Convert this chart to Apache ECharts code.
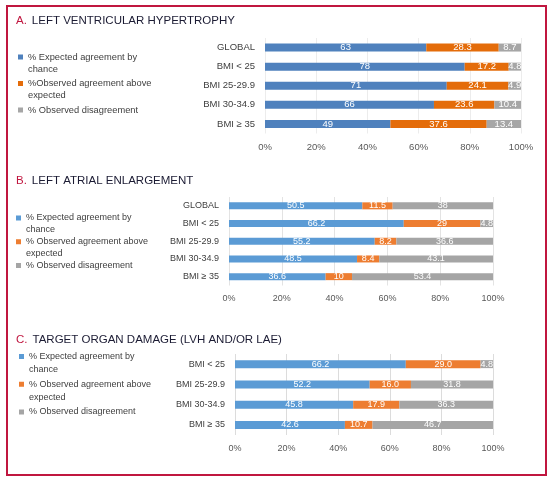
<!DOCTYPE html>
<html>
<head>
<meta charset="utf-8">
<script src="https://cdn.jsdelivr.net/npm/echarts@6/dist/echarts.min.js"></script>
<style>
  html, body { margin: 0; padding: 0; background: #fff; }
  #chart { width: 552px; height: 484px; }
</style>
</head>
<body>
<div id="chart"></div>
<script>
// panel A: left ventricular hypertrophy
const lvhCategories = ['GLOBAL', 'BMI < 25', 'BMI 25-29.9', 'BMI 30-34.9', 'BMI ≥ 35'];
const lvhExpected = [63, 78, 71, 66, 49];
const lvhAbove = [28.3, 17.2, 24.1, 23.6, 37.6];
const lvhDisagree = [8.7, 4.8, 4.9, 10.4, 13.4];

// panel B: left atrial enlargement
const laeCategories = ['GLOBAL', 'BMI < 25', 'BMI 25-29.9', 'BMI 30-34.9', 'BMI ≥ 35'];
const laeExpected = [50.5, 66.2, 55.2, 48.5, 36.6];
const laeAbove = [11.5, 29, 8.2, 8.4, 10];
const laeDisagree = [38, 4.8, 36.6, 43.1, 53.4];

// panel C: target organ damage
const todCategories = ['BMI < 25', 'BMI 25-29.9', 'BMI 30-34.9', 'BMI ≥ 35'];
const todExpected = [66.2, 52.2, 45.8, 42.6];
const todAbove = [29.0, 16.0, 17.9, 10.7];
const todDisagree = [4.8, 31.8, 36.3, 46.7];

const namesA = ['% Expected agreement by chance', '%Observed agreement above expected', '% Observed disagreement'];
const namesBC = ['% Expected agreement by chance', '% Observed agreement above expected', '% Observed disagreement'];
const xTicks = [0, 20, 40, 60, 80, 100];

const FONT = '"Liberation Sans", Arial, sans-serif';
const colorsA = ['#4F81BD', '#E46C0A', '#A6A6A6'];
const colorsBC = ['#5B9BD5', '#ED7D31', '#A5A5A5'];

const panels = [
  { letter: 'A.', title: 'LEFT VENTRICULAR HYPERTROPHY', titleTop: 12, fs: 9.5,
    cats: lvhCategories, values: [lvhExpected, lvhAbove, lvhDisagree], names: namesA, colors: colorsA,
    grid: { left: 265, right: 31, top: 38, height: 95.5 }, barWidth: 8, split: '#ececec', decimals: null,
    legend: { left: 18, top: 51, lineHeight: 12, gap: 2.5, fs: 9.3 } },
  { letter: 'B.', title: 'LEFT ATRIAL ENLARGEMENT', titleTop: 172, fs: 9,
    cats: laeCategories, values: [laeExpected, laeAbove, laeDisagree], names: namesBC, colors: colorsBC,
    grid: { left: 229, right: 59, top: 197, height: 88.5 }, barWidth: 7, split: '#e3e3e3', decimals: null,
    legend: { left: 16, top: 212, lineHeight: 12, gap: -0.3, fs: 9 } },
  { letter: 'C.', title: 'TARGET ORGAN DAMAGE (LVH AND/OR LAE)', titleTop: 331, fs: 9,
    cats: todCategories, values: [todExpected, todAbove, todDisagree], names: namesBC, colors: colorsBC,
    grid: { left: 235, right: 59, top: 354, height: 81 }, barWidth: 8, split: '#dcdcdc', decimals: 1,
    legend: { left: 19, top: 350, lineHeight: 13, gap: 1.7, fs: 9 } }
];

// two-line legend entries; a single-line entry gets an empty second line
const wrapName = name => /( chance| expected)$/.test(name)
  ? name.replace(/ (chance|expected)$/, '\n$1')
  : name + '\n ';

const option = {
  backgroundColor: '#ffffff',
  animation: false,
  textStyle: { fontFamily: FONT },
  title: [],
  legend: [],
  grid: [],
  xAxis: [],
  yAxis: [],
  series: [],
  graphic: [{
    type: 'rect',
    shape: { x: 7, y: 6, width: 539, height: 469 },
    style: { fill: 'none', stroke: '#C0163F', lineWidth: 2 }
  }]
};

panels.forEach((p, i) => {
  option.title.push({
    text: '{l|' + p.letter + '} {t|' + p.title + '}',
    left: 16, top: p.titleTop, padding: 0,
    textStyle: {
      fontWeight: 'normal',
      rich: {
        l: { color: '#C0163F', fontSize: 11.5, fontWeight: 'normal', fontFamily: FONT },
        t: { color: '#1B1B33', fontSize: 11.5, fontWeight: 'normal', fontFamily: FONT }
      }
    }
  });

  // legend icon sits beside the first text line
  const lh = p.legend.lineHeight;
  const sq = 5;
  const iconPath = 'path://M0,0h' + sq + 'M0,' + (lh / 2 - sq / 2) + 'h' + sq + 'v' + sq + 'h-' + sq + 'zM0,' + (2 * lh) + 'h' + sq;
  option.legend.push({
    orient: 'vertical',
    left: p.legend.left, top: p.legend.top,
    padding: 0,
    itemGap: p.legend.gap,
    itemWidth: sq, itemHeight: 2 * lh,
    selectedMode: false,
    formatter: wrapName,
    textStyle: { fontSize: p.legend.fs, lineHeight: lh, color: '#404040', fontFamily: FONT },
    data: p.names.map((n, k) => ({
      name: n,
      icon: iconPath,
      itemStyle: { color: p.colors[k], borderWidth: 0 }
    }))
  });

  option.grid.push(Object.assign({ containLabel: false }, p.grid));

  option.xAxis.push({
    type: 'value', gridIndex: i,
    min: xTicks[0], max: xTicks[xTicks.length - 1], interval: xTicks[1] - xTicks[0],
    axisLine: { show: false },
    axisTick: { show: false },
    axisLabel: { formatter: '{value}%', color: '#595959', fontSize: p.fs, margin: 9 },
    splitLine: { lineStyle: { color: p.split, width: 1 } }
  });

  option.yAxis.push({
    type: 'category', gridIndex: i, inverse: true,
    data: p.cats,
    axisLine: { show: false },
    axisTick: { show: false },
    axisLabel: { color: '#404040', fontSize: p.fs, margin: 10 }
  });

  p.values.forEach((vals, k) => {
    option.series.push({
      name: p.names[k],
      type: 'bar',
      stack: 'panel' + i,
      xAxisIndex: i, yAxisIndex: i,
      barWidth: p.barWidth,
      itemStyle: { color: p.colors[k] },
      label: {
        show: true, position: 'inside', color: '#ffffff', fontSize: p.fs,
        formatter: prm => p.decimals == null ? String(prm.value) : prm.value.toFixed(p.decimals)
      },
      data: vals
    });
  });
});

const myChart = echarts.init(document.getElementById('chart'));
myChart.setOption(option);
</script>
</body>
</html>
